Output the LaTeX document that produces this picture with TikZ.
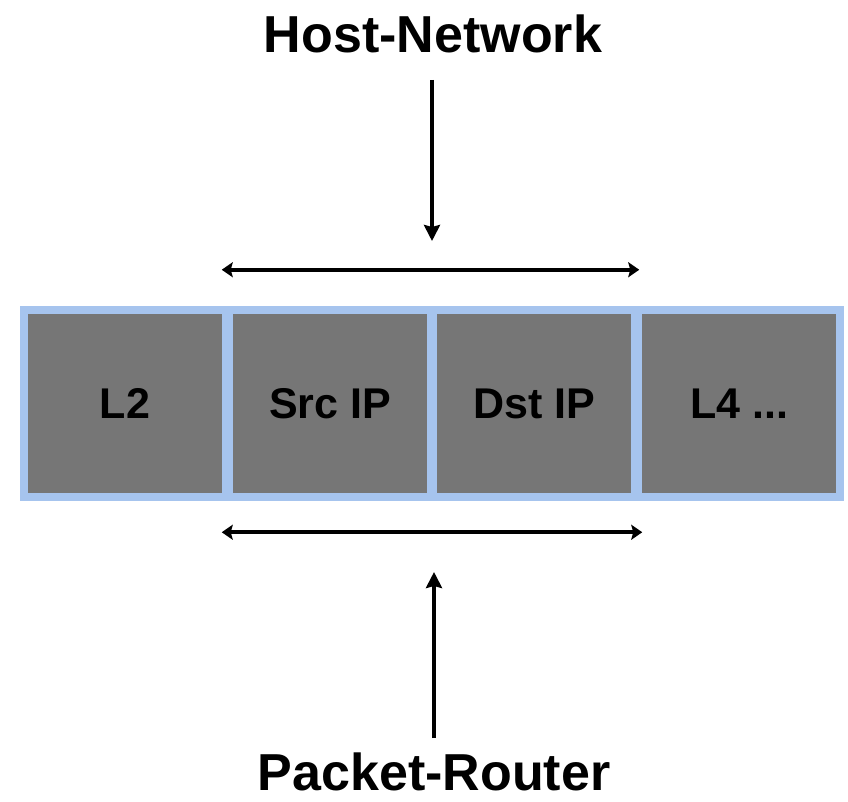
\documentclass[tikz,border=0pt]{standalone}
\usepackage{fontspec}
\setmainfont{Liberation Sans}
\usetikzlibrary{arrows.meta,shadows,calc}
\definecolor{cellgrey}{HTML}{767676}
\definecolor{cellblue}{HTML}{A6C4EE}
\newcommand{\hd}{\bfseries\fontsize{52}{60}\selectfont}
\newcommand{\cl}{\bfseries\fontsize{43}{50}\selectfont}

\begin{document}
\begin{tikzpicture}[x=1pt, y=-1pt,
  cell/.style={draw=cellblue, fill=cellgrey, line width=8.5pt, minimum width=202pt,
               minimum height=187pt, inner sep=0pt, font=\cl,
               drop shadow={opacity=0.25, shadow xshift=1.5pt, shadow yshift=-1.5pt}},
  ttl/.style={font=\hd, anchor=base, inner sep=0pt},
  pt/.style={line width=4.5pt, -{Stealth[length=16pt,width=16pt,inset=2pt]}},
  span/.style={line width=4pt, {Stealth[length=11pt,width=15pt,inset=2pt]}-{Stealth[length=11pt,width=15pt,inset=2pt]}}]
\useasboundingbox (0,0) rectangle (848,802);

% ================================================================== the header cells
\node[cell] (l2)  at (125,403.5) {L2};
\node[cell] (src) at (330,403.5) {Src IP};
\node[cell] (dst) at (534,403.5) {Dst IP};
\node[cell] (l4)  at (739,403.5) {L4 ...};

% ================================================================== who looks at which fields
\node[ttl] (host)   at (433,53)  {Host-Network};
\node[ttl] (router) at (434,790) {Packet-Router};

% the span of the two address fields, above and below the cells
\coordinate (ua) at ($(src.north west)+(-3,-36)$);
\coordinate (ub) at ($(dst.north east)+(0,-36)$);
\coordinate (la) at ($(src.south west)+(-3,31)$);
\coordinate (lb) at ($(dst.south east)+(3,31)$);
\draw[span] (ua) -- (ub);
\draw[span] (la) -- (lb);

% the two views point at it
\coordinate (ht) at (432,241);
\coordinate (rt) at (434,572);
\draw[pt] ($(host.base)+(-1,27)$) -- (ht);
\draw[pt] ($(router.north)+(0,-14)$) -- (rt);
\end{tikzpicture}
\end{document}
